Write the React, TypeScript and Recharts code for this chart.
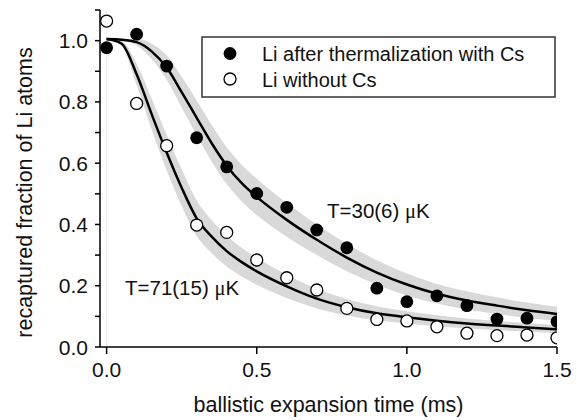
import React from "react";
import {
  ComposedChart,
  XAxis,
  YAxis,
  Line,
  Area,
  Scatter,
  Customized,
  ReferenceLine,
} from "recharts";

// measured points (ballistic expansion time in ms)
const pointTimes = [0, 0.1, 0.2, 0.3, 0.4, 0.5, 0.6, 0.7, 0.8, 0.9, 1.0, 1.1, 1.2, 1.3, 1.4, 1.5];
const withCs = [0.977, 1.021, 0.917, 0.683, 0.588, 0.501, 0.456, 0.382, 0.324, 0.192, 0.148, 0.167, 0.135, 0.091, 0.094, 0.083];
const withoutCs = [1.064, 0.795, 0.657, 0.398, 0.374, 0.284, 0.226, 0.186, 0.126, 0.09, 0.085, 0.066, 0.045, 0.037, 0.039, 0.03];

// fit curves and uncertainty bands
const curveTimes = [0, 0.05, 0.1, 0.15, 0.2, 0.25, 0.3, 0.35, 0.4, 0.45, 0.5, 0.6, 0.7, 0.8, 0.9, 1.0, 1.1, 1.2, 1.3, 1.4, 1.5];
const fitCs = [1.005, 1.003, 0.995, 0.965, 0.912, 0.832, 0.748, 0.665, 0.592, 0.535, 0.49, 0.415, 0.35, 0.292, 0.243, 0.204, 0.174, 0.152, 0.135, 0.12, 0.108];
const bandCsHi = [1.005, 1.005, 1.005, 0.99, 0.952, 0.882, 0.805, 0.725, 0.652, 0.595, 0.549, 0.47, 0.4, 0.337, 0.283, 0.24, 0.206, 0.182, 0.162, 0.145, 0.131];
const bandCsLo = [1.005, 1.001, 0.985, 0.94, 0.872, 0.782, 0.691, 0.605, 0.532, 0.475, 0.431, 0.36, 0.3, 0.247, 0.203, 0.168, 0.142, 0.122, 0.108, 0.095, 0.085];
const fitNoCs = [1.005, 0.99, 0.89, 0.76, 0.635, 0.52, 0.42, 0.36, 0.313, 0.277, 0.247, 0.198, 0.158, 0.13, 0.11, 0.097, 0.086, 0.077, 0.07, 0.064, 0.058];
const bandNoHi = [1.005, 0.998, 0.925, 0.81, 0.693, 0.58, 0.478, 0.414, 0.363, 0.324, 0.291, 0.236, 0.19, 0.157, 0.133, 0.117, 0.104, 0.093, 0.085, 0.078, 0.071];
const bandNoLo = [1.005, 0.982, 0.855, 0.71, 0.577, 0.46, 0.362, 0.306, 0.263, 0.23, 0.203, 0.16, 0.126, 0.103, 0.087, 0.077, 0.068, 0.061, 0.055, 0.05, 0.045];

const xTicks = [0, 0.5, 1.0, 1.5];
const yTicks = [0, 0.1, 0.2, 0.3, 0.4, 0.5, 0.6, 0.7, 0.8, 0.9, 1.0, 1.1];

const legendLabels = ["Li after thermalization with Cs", "Li without Cs"];
const tempLabels = ["T=30(6) ", "T=71(15) "];
const xLabel = "ballistic expansion time (ms)";
const yLabel = "recaptured fraction of Li atoms";

const csPoints = pointTimes.map((t, i) => ({ t, v: withCs[i] }));
const noPoints = pointTimes.map((t, i) => ({ t, v: withoutCs[i] }));
const curveRows = curveTimes.map((t, i) => ({
  t,
  cs: fitCs[i],
  no: fitNoCs[i],
  csBand: [bandCsLo[i], bandCsHi[i]],
  noBand: [bandNoLo[i], bandNoHi[i]],
}));

const FONT = "'Liberation Sans', Arial, Helvetica, sans-serif";
const SERIF = "'Liberation Serif', 'Times New Roman', serif";

const FilledDot = (p: any) => <circle cx={p.cx} cy={p.cy} r={6.4} fill="#000" />;
const OpenDot = (p: any) => (
  <circle cx={p.cx} cy={p.cy} r={6} fill="#fff" stroke="#000" strokeWidth={1.3} />
);

const XTick = (p: any) => (
  <text x={p.x} y={p.y} dy={21} textAnchor="middle" fontSize={21} fontFamily={FONT} fill="#111">
    {Number(p.payload.value).toFixed(1)}
  </text>
);

const YTick = (p: any) => {
  const v = p.payload.value;
  const idx = Math.round(v * 10);
  if (idx % 2 !== 0) return <g />;
  return (
    <text x={p.x - 5} y={p.y} dy="0.36em" textAnchor="end" fontSize={21} fontFamily={FONT} fill="#111">
      {(idx / 10).toFixed(1)}
    </text>
  );
};

const Overlay = () => (
  <g fontFamily={FONT} fill="#111">
    <text
      x={25}
      y={192.5}
      transform="rotate(-90 25 192.5)"
      textAnchor="middle"
      dominantBaseline="central"
      fontSize={21.5}
    >
      {yLabel}
    </text>
    <text x={328.5} y={411.5} textAnchor="middle" fontSize={21.5}>
      {xLabel}
    </text>
    <rect x={202} y={37} width={353} height={60} fill="#fff" stroke="#333" strokeWidth={1.5} />
    <circle cx={230} cy={53.5} r={6.4} fill="#000" />
    <circle cx={230} cy={79} r={6} fill="#fff" stroke="#000" strokeWidth={1.3} />
    <text x={262} y={60.5} fontSize={20}>
      {legendLabels[0]}
    </text>
    <text x={262} y={86.5} fontSize={20}>
      {legendLabels[1]}
    </text>
    <text x={327} y={218} fontSize={20.5}>
      {tempLabels[0]}
      <tspan fontFamily={SERIF}>μ</tspan>K
    </text>
    <text x={125} y={295} fontSize={20.5}>
      {tempLabels[1]}
      <tspan fontFamily={SERIF}>μ</tspan>K
    </text>
  </g>
);

export default function App() {
  return (
    <div style={{ position: "absolute", left: 0, top: 0, width: 587, height: 420, background: "#fff" }}>
      <ComposedChart width={587} height={420} margin={{ top: 10, right: 30, bottom: 0, left: 0 }}>
        <XAxis
          dataKey="t"
          type="number"
          domain={[-0.022, 1.5]}
          ticks={xTicks}
          allowDataOverflow
          height={73}
          tickSize={7}
          axisLine={{ stroke: "#000", strokeWidth: 1.5 }}
          tickLine={{ stroke: "#000", strokeWidth: 1.5 }}
          tick={<XTick />}
        />
        <YAxis
          type="number"
          domain={[0, 1.1]}
          ticks={yTicks}
          allowDataOverflow
          width={100}
          tickSize={5}
          axisLine={{ stroke: "#000", strokeWidth: 1.5 }}
          tickLine={{ stroke: "#000", strokeWidth: 1.5 }}
          tick={<YTick />}
          interval={0}
        />
        <ReferenceLine x={0} stroke="#eeeeee" strokeWidth={1} />
        <Area
          data={curveRows}
          dataKey="csBand"
          type="monotone"
          fill="#d9d9d9"
          fillOpacity={1}
          stroke="none"
          isAnimationActive={false}
          activeDot={false}
        />
        <Area
          data={curveRows}
          dataKey="noBand"
          type="monotone"
          fill="#d9d9d9"
          fillOpacity={1}
          stroke="none"
          isAnimationActive={false}
          activeDot={false}
        />
        <Line
          data={curveRows}
          dataKey="cs"
          type="monotone"
          stroke="#000"
          strokeWidth={2.5}
          dot={false}
          activeDot={false}
          isAnimationActive={false}
        />
        <Line
          data={curveRows}
          dataKey="no"
          type="monotone"
          stroke="#000"
          strokeWidth={2.5}
          dot={false}
          activeDot={false}
          isAnimationActive={false}
        />
        <Scatter data={csPoints} dataKey="v" shape={<FilledDot />} isAnimationActive={false} />
        <Scatter data={noPoints} dataKey="v" shape={<OpenDot />} isAnimationActive={false} />
        <Customized component={Overlay} />
      </ComposedChart>
    </div>
  );
}
